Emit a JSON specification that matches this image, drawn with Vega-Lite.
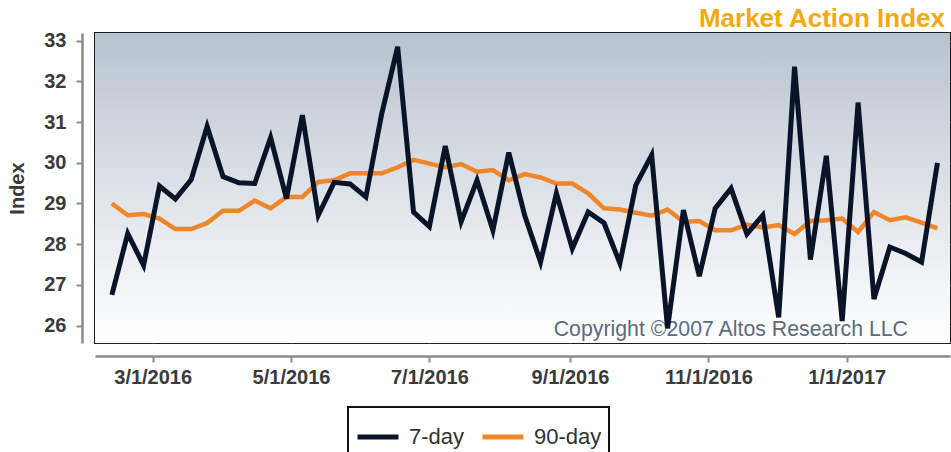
{
  "$schema": "https://vega.github.io/schema/vega-lite/v6.json",
  "width": 855,
  "height": 310,
  "autosize": {"type": "none"},
  "padding": {"left": 95, "top": 33, "right": 1, "bottom": 109},
  "background": "white",
  "config": {
    "font": "Liberation Sans",
    "view": {"stroke": "#1e1e1e", "strokeWidth": 2},
    "axis": {
      "gridColor": "#5b6877",
      "gridWidth": 1.5,
      "gridOpacity": 1,
      "domainColor": "#8c8c8c",
      "domainWidth": 2.5,
      "tickColor": "#8c8c8c",
      "tickWidth": 2,
      "tickSize": 6,
      "labelFont": "Liberation Sans",
      "labelFontWeight": "bold",
      "labelFontSize": 20,
      "labelColor": "#3a3a3a",
      "titleFont": "Liberation Sans",
      "titleFontWeight": "bold",
      "titleFontSize": 20,
      "titleColor": "#3a3a3a"
    },
    "legend": {
      "orient": "none",
      "legendX": 253,
      "legendY": 374,
      "direction": "horizontal",
      "strokeColor": "#111111",
      "strokeWidth": 2,
      "padding": 7,
      "symbolType": "stroke",
      "symbolSize": 1681,
      "symbolStrokeWidth": 5,
      "labelFont": "Liberation Sans",
      "labelFontSize": 22,
      "labelColor": "#333333",
      "labelOffset": 8,
      "columnPadding": 7
    }
  },
  "title": {
    "text": "Market Action Index",
    "anchor": "end",
    "orient": "top",
    "frame": "group",
    "font": "Liberation Sans",
    "fontSize": 26,
    "fontWeight": "bold",
    "color": "#F2AA10",
    "baseline": "alphabetic",
    "offset": 6,
    "dx": -5,
    "dy": 28
  },
  "datasets": {
    "idx": [
      {"date": "2016-02-12", "series": "7-day", "value": 26.75},
      {"date": "2016-02-19", "series": "7-day", "value": 28.26},
      {"date": "2016-02-26", "series": "7-day", "value": 27.48},
      {"date": "2016-03-04", "series": "7-day", "value": 29.43},
      {"date": "2016-03-11", "series": "7-day", "value": 29.11},
      {"date": "2016-03-18", "series": "7-day", "value": 29.59},
      {"date": "2016-03-25", "series": "7-day", "value": 30.89},
      {"date": "2016-04-01", "series": "7-day", "value": 29.66},
      {"date": "2016-04-08", "series": "7-day", "value": 29.51},
      {"date": "2016-04-15", "series": "7-day", "value": 29.49},
      {"date": "2016-04-22", "series": "7-day", "value": 30.62},
      {"date": "2016-04-29", "series": "7-day", "value": 29.12},
      {"date": "2016-05-06", "series": "7-day", "value": 31.17},
      {"date": "2016-05-13", "series": "7-day", "value": 28.71},
      {"date": "2016-05-20", "series": "7-day", "value": 29.52},
      {"date": "2016-05-27", "series": "7-day", "value": 29.48},
      {"date": "2016-06-03", "series": "7-day", "value": 29.16},
      {"date": "2016-06-10", "series": "7-day", "value": 31.21},
      {"date": "2016-06-17", "series": "7-day", "value": 32.85},
      {"date": "2016-06-24", "series": "7-day", "value": 28.79},
      {"date": "2016-07-01", "series": "7-day", "value": 28.43},
      {"date": "2016-07-08", "series": "7-day", "value": 30.41},
      {"date": "2016-07-15", "series": "7-day", "value": 28.55},
      {"date": "2016-07-22", "series": "7-day", "value": 29.57},
      {"date": "2016-07-29", "series": "7-day", "value": 28.34},
      {"date": "2016-08-05", "series": "7-day", "value": 30.25},
      {"date": "2016-08-12", "series": "7-day", "value": 28.71},
      {"date": "2016-08-19", "series": "7-day", "value": 27.56},
      {"date": "2016-08-26", "series": "7-day", "value": 29.25},
      {"date": "2016-09-02", "series": "7-day", "value": 27.89},
      {"date": "2016-09-09", "series": "7-day", "value": 28.79},
      {"date": "2016-09-16", "series": "7-day", "value": 28.52},
      {"date": "2016-09-23", "series": "7-day", "value": 27.53},
      {"date": "2016-09-30", "series": "7-day", "value": 29.45},
      {"date": "2016-10-07", "series": "7-day", "value": 30.19},
      {"date": "2016-10-14", "series": "7-day", "value": 25.93},
      {"date": "2016-10-21", "series": "7-day", "value": 28.84},
      {"date": "2016-10-28", "series": "7-day", "value": 27.21},
      {"date": "2016-11-04", "series": "7-day", "value": 28.88},
      {"date": "2016-11-11", "series": "7-day", "value": 29.37},
      {"date": "2016-11-18", "series": "7-day", "value": 28.25},
      {"date": "2016-11-25", "series": "7-day", "value": 28.71},
      {"date": "2016-12-02", "series": "7-day", "value": 26.2},
      {"date": "2016-12-09", "series": "7-day", "value": 32.36},
      {"date": "2016-12-16", "series": "7-day", "value": 27.62},
      {"date": "2016-12-23", "series": "7-day", "value": 30.17},
      {"date": "2016-12-30", "series": "7-day", "value": 26.11},
      {"date": "2017-01-06", "series": "7-day", "value": 31.48},
      {"date": "2017-01-13", "series": "7-day", "value": 26.65},
      {"date": "2017-01-20", "series": "7-day", "value": 27.93},
      {"date": "2017-01-27", "series": "7-day", "value": 27.77},
      {"date": "2017-02-03", "series": "7-day", "value": 27.56},
      {"date": "2017-02-10", "series": "7-day", "value": 30.0},
      {"date": "2016-02-12", "series": "90-day", "value": 29.0},
      {"date": "2016-02-19", "series": "90-day", "value": 28.71},
      {"date": "2016-02-26", "series": "90-day", "value": 28.74},
      {"date": "2016-03-04", "series": "90-day", "value": 28.63},
      {"date": "2016-03-11", "series": "90-day", "value": 28.37},
      {"date": "2016-03-18", "series": "90-day", "value": 28.37},
      {"date": "2016-03-25", "series": "90-day", "value": 28.52},
      {"date": "2016-04-01", "series": "90-day", "value": 28.82},
      {"date": "2016-04-08", "series": "90-day", "value": 28.82},
      {"date": "2016-04-15", "series": "90-day", "value": 29.07},
      {"date": "2016-04-22", "series": "90-day", "value": 28.88},
      {"date": "2016-04-29", "series": "90-day", "value": 29.16},
      {"date": "2016-05-06", "series": "90-day", "value": 29.16},
      {"date": "2016-05-13", "series": "90-day", "value": 29.53},
      {"date": "2016-05-20", "series": "90-day", "value": 29.57},
      {"date": "2016-05-27", "series": "90-day", "value": 29.74},
      {"date": "2016-06-03", "series": "90-day", "value": 29.74},
      {"date": "2016-06-10", "series": "90-day", "value": 29.74},
      {"date": "2016-06-17", "series": "90-day", "value": 29.89},
      {"date": "2016-06-24", "series": "90-day", "value": 30.07},
      {"date": "2016-07-01", "series": "90-day", "value": 29.98},
      {"date": "2016-07-08", "series": "90-day", "value": 29.89},
      {"date": "2016-07-15", "series": "90-day", "value": 29.97},
      {"date": "2016-07-22", "series": "90-day", "value": 29.78},
      {"date": "2016-07-29", "series": "90-day", "value": 29.82},
      {"date": "2016-08-05", "series": "90-day", "value": 29.57},
      {"date": "2016-08-12", "series": "90-day", "value": 29.72},
      {"date": "2016-08-19", "series": "90-day", "value": 29.64},
      {"date": "2016-08-26", "series": "90-day", "value": 29.49},
      {"date": "2016-09-02", "series": "90-day", "value": 29.49},
      {"date": "2016-09-09", "series": "90-day", "value": 29.25},
      {"date": "2016-09-16", "series": "90-day", "value": 28.88},
      {"date": "2016-09-23", "series": "90-day", "value": 28.85},
      {"date": "2016-09-30", "series": "90-day", "value": 28.77},
      {"date": "2016-10-07", "series": "90-day", "value": 28.7},
      {"date": "2016-10-14", "series": "90-day", "value": 28.85},
      {"date": "2016-10-21", "series": "90-day", "value": 28.55},
      {"date": "2016-10-28", "series": "90-day", "value": 28.57},
      {"date": "2016-11-04", "series": "90-day", "value": 28.34},
      {"date": "2016-11-11", "series": "90-day", "value": 28.34},
      {"date": "2016-11-18", "series": "90-day", "value": 28.48},
      {"date": "2016-11-25", "series": "90-day", "value": 28.41},
      {"date": "2016-12-02", "series": "90-day", "value": 28.47},
      {"date": "2016-12-09", "series": "90-day", "value": 28.25},
      {"date": "2016-12-16", "series": "90-day", "value": 28.57},
      {"date": "2016-12-23", "series": "90-day", "value": 28.59},
      {"date": "2016-12-30", "series": "90-day", "value": 28.63},
      {"date": "2017-01-06", "series": "90-day", "value": 28.3},
      {"date": "2017-01-13", "series": "90-day", "value": 28.79},
      {"date": "2017-01-20", "series": "90-day", "value": 28.59},
      {"date": "2017-01-27", "series": "90-day", "value": 28.66},
      {"date": "2017-02-03", "series": "90-day", "value": 28.53},
      {"date": "2017-02-10", "series": "90-day", "value": 28.39}
    ],
    "one": [{"note": "Copyright ©2007 Altos Research LLC"}]
  },
  "layer": [
    {
      "data": {"name": "one"},
      "mark": {
        "type": "rect",
        "color": {
          "gradient": "linear",
          "x1": 0, "y1": 0, "x2": 0, "y2": 1,
          "stops": [
            {"offset": 0, "color": "#b8c3cf"},
            {"offset": 0.5, "color": "#dde2e8"},
            {"offset": 1, "color": "#ffffff"}
          ]
        }
      },
      "encoding": {
        "y": {"datum": 33.19, "type": "quantitative", "scale": {"domain": [25.57, 33.19], "nice": false, "zero": false}},
        "y2": {"datum": 25.57}
      }
    },
    {
      "data": {"name": "one"},
      "mark": {"type": "text", "font": "Liberation Sans", "fontSize": 21.3, "color": "#5b6b7c", "align": "right", "baseline": "alphabetic"},
      "encoding": {
        "text": {"field": "note"},
        "x": {"datum": {"year": 2017, "month": 1, "date": 28, "utc": true}, "type": "temporal"},
        "y": {"datum": 25.74, "type": "quantitative"}
      }
    },
    {
      "data": {"name": "idx"},
      "transform": [{"filter": "datum.series === '90-day'"}],
      "mark": {"type": "line", "strokeWidth": 4.5},
      "encoding": {
        "x": {
          "field": "date", "type": "temporal",
          "scale": {"type": "utc", "domain": [
            {"year": 2016, "month": 2, "date": 4, "hours": 13, "minutes": 40, "utc": true},
            {"year": 2017, "month": 2, "date": 15, "hours": 12, "minutes": 43, "utc": true}
          ]},
          "axis": {
            "title": null,
            "values": [
              {"year": 2016, "month": 3, "date": 1, "utc": true},
              {"year": 2016, "month": 5, "date": 1, "utc": true},
              {"year": 2016, "month": 7, "date": 1, "utc": true},
              {"year": 2016, "month": 9, "date": 1, "utc": true},
              {"year": 2016, "month": 11, "date": 1, "utc": true},
              {"year": 2017, "month": 1, "date": 1, "utc": true}
            ],
            "format": "%-m/%-d/%Y",
            "grid": true,
            "offset": 13,
            "labelPadding": 5
          }
        },
        "y": {
          "field": "value", "type": "quantitative",
          "scale": {"domain": [25.57, 33.19], "nice": false, "zero": false},
          "axis": {"title": "Index", "values": [26, 27, 28, 29, 30, 31, 32, 33], "format": "d", "grid": true, "offset": 13, "labelPadding": 10, "titlePadding": 16}
        },
        "color": {
          "field": "series", "type": "nominal",
          "scale": {"domain": ["7-day", "90-day"], "range": ["#0a1428", "#f0862a"]},
          "legend": {"title": null}
        }
      }
    },
    {
      "data": {"name": "idx"},
      "transform": [{"filter": "datum.series === '7-day'"}],
      "mark": {"type": "line", "strokeWidth": 5},
      "encoding": {
        "x": {"field": "date", "type": "temporal"},
        "y": {"field": "value", "type": "quantitative"},
        "color": {"field": "series", "type": "nominal"}
      }
    }
  ]
}
